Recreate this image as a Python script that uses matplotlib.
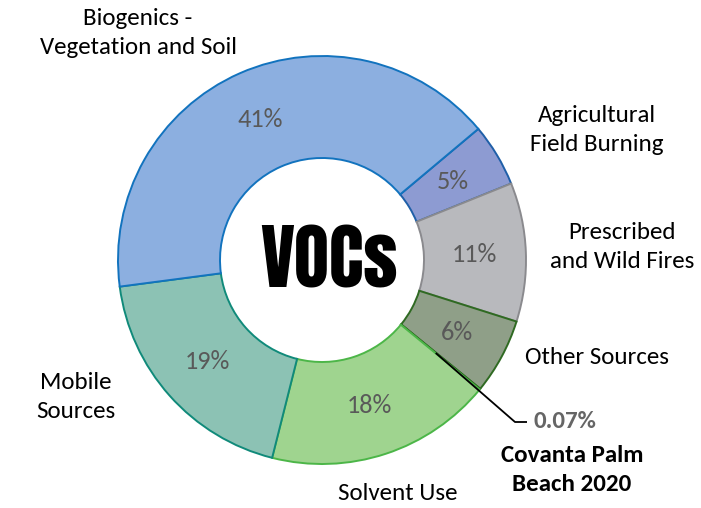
import numpy as np
import matplotlib
matplotlib.use("Agg")
import matplotlib.pyplot as plt
from matplotlib import font_manager

# ---- data ----
categories = ["Agricultural\nField Burning", "Prescribed\nand Wild Fires", "Other Sources",
              "Covanta Palm\nBeach 2020", "Solvent Use", "Mobile\nSources",
              "Biogenics -\nVegetation and Soil"]
values = [5, 11, 6, 0.07, 18, 19, 41]
pct_labels = ["5%", "11%", "6%", "0.07%", "18%", "19%", "41%"]

face_colors = ["#8d9bd2", "#b8b9bd", "#8f9f88", "#2e5e1e", "#9fd48f", "#8cc2b4", "#8cafe0"]
edge_colors = ["#1f5fa8", "#8a8a8e", "#2f6a22", "#2f6a22", "#4cb648", "#108a7a", "#1273be"]

names = {f.name for f in font_manager.fontManager.ttflist}
def pick(cands):
    for c in cands:
        if c in names:
            return c
    return "DejaVu Sans"
base_font = pick(["Carlito", "Lato", "Open Sans"])
title_font = pick(["Anton", "Oswald", "Fjalla One", "Bebas Neue", "Fira Sans Extra Condensed"])

W, H = 701, 508
fig = plt.figure(figsize=(W / 100, H / 100), dpi=100)
ax = fig.add_axes([0, 0, 1, 1])
cx, cy, R = 322, H - 260, 204

wedges, _ = ax.pie(values, startangle=40, counterclock=False, center=(cx, cy), radius=R,
                   colors=face_colors, wedgeprops=dict(width=R * 0.5, linewidth=1.4))
for w, ec in zip(wedges, edge_colors):
    w.set_edgecolor(ec)

ax.set_xlim(0, W)
ax.set_ylim(0, H)
ax.set_aspect("equal")
ax.axis("off")

LBL = 18
PCT = 19

# percentage labels inside ring
for w, lab in zip(wedges, pct_labels):
    if lab == "0.07%":
        continue
    ang = np.deg2rad((w.theta1 + w.theta2) / 2)
    r = R * 0.75
    ax.text(cx + r * np.cos(ang), cy + r * np.sin(ang), lab, ha="center", va="center",
            fontsize=PCT, color="#595959", family=base_font)

def px(x, y):
    return x, H - y

label_pos = {
    "Agricultural\nField Burning": (597, 130),
    "Prescribed\nand Wild Fires": (622, 247),
    "Other Sources": (597, 358),
    "Solvent Use": (398, 493),
    "Mobile\nSources": (76, 397),
    "Biogenics -\nVegetation and Soil": (138, 33),
}
for lab, (x, y) in label_pos.items():
    ax.text(*px(x, y), lab, ha="center", va="center", fontsize=LBL, color="black",
            family=base_font, linespacing=1.45)

# Covanta leader line and labels
cw = wedges[3]
a = np.deg2rad((cw.theta1 + cw.theta2) / 2)
r0 = R * 0.72
x0, y0 = cx + r0 * np.cos(a), cy + r0 * np.sin(a)
ax.plot([x0, 515, 527], [y0, H - 422, H - 422], color="black", lw=1.3, solid_capstyle="butt")
ax.text(*px(534, 422), pct_labels[3], ha="left", va="center", fontsize=LBL,
        fontweight="bold", color="#666666", family=base_font)
ax.text(*px(572, 470), categories[3], ha="center", va="center", fontsize=LBL,
        fontweight="bold", color="black", family=base_font, linespacing=1.45)

# center title
ax.text(*px(329, 287), "VOCs", ha="center", va="baseline", fontsize=52,
        color="black", family=title_font)

fig.savefig("out.png", dpi=100)
